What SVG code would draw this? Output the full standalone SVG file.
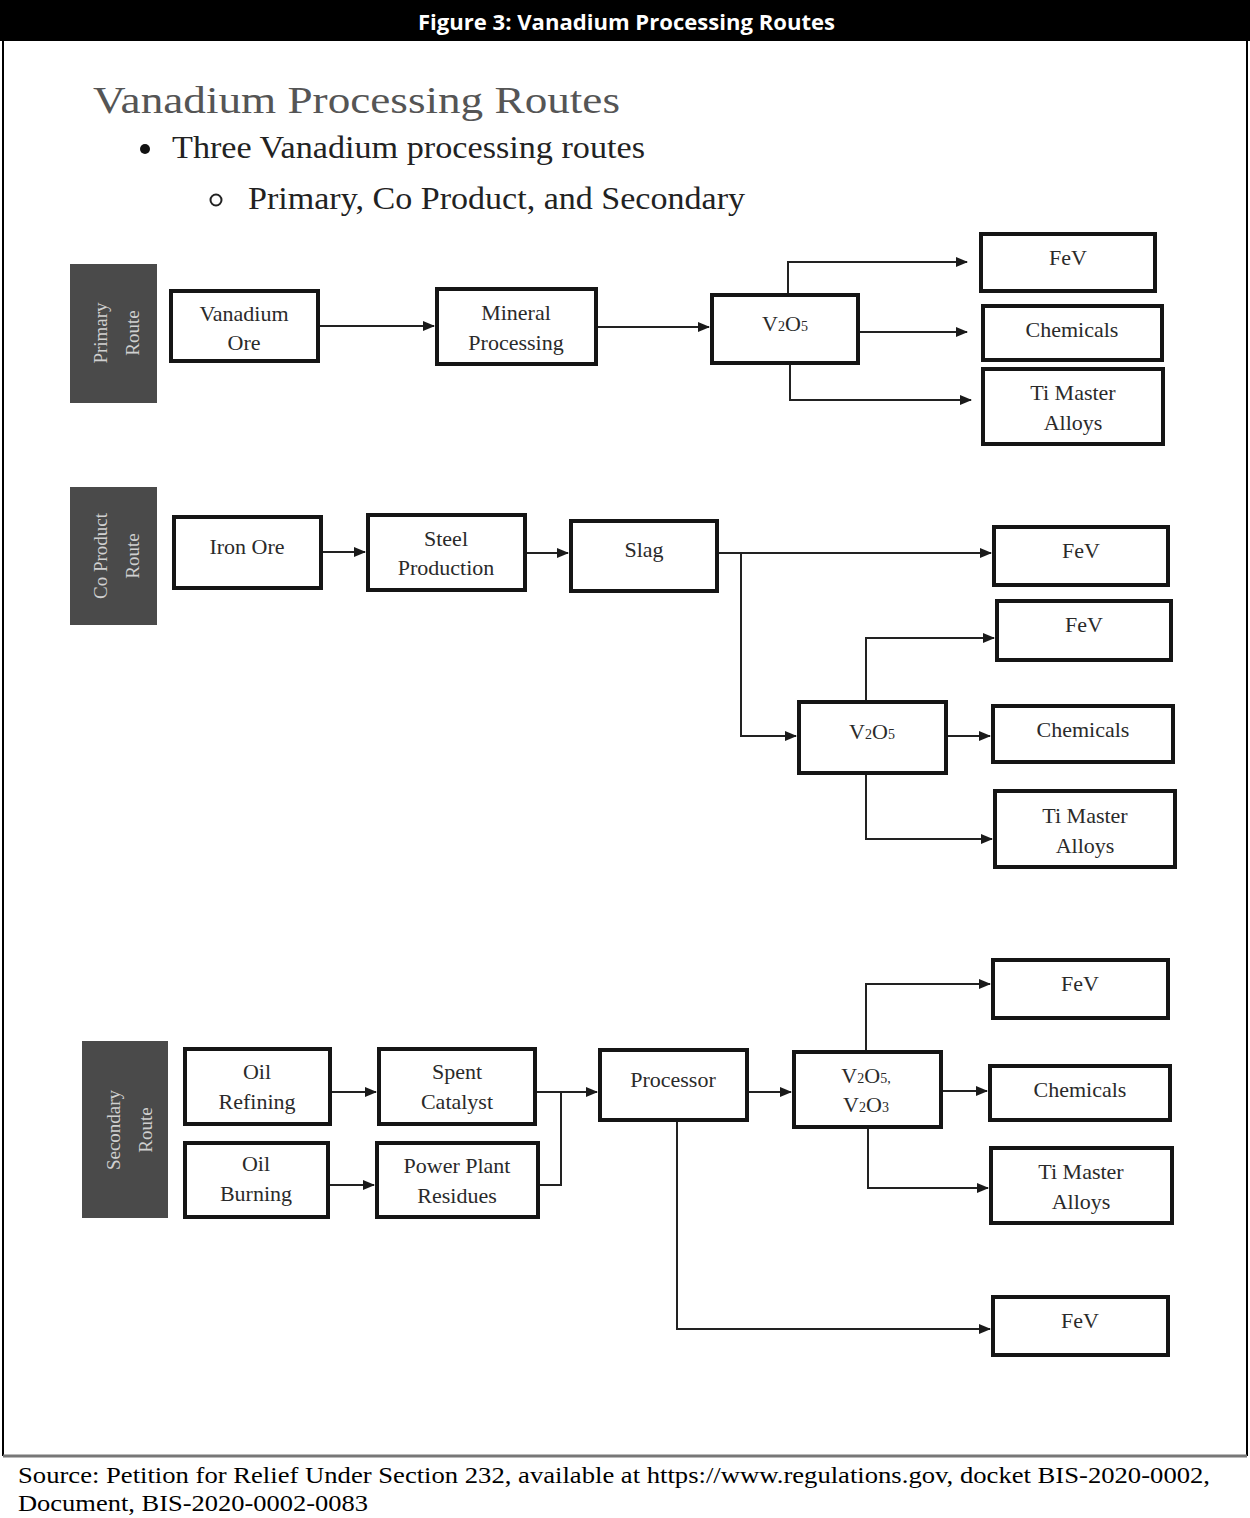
<svg xmlns="http://www.w3.org/2000/svg" width="1250" height="1518" viewBox="0 0 1250 1518">
<defs>
<marker id="ah" markerUnits="userSpaceOnUse" markerWidth="12" markerHeight="10" refX="11" refY="5" orient="auto"><path d="M0,0 L12,5 L0,10 Z" fill="#1a1a1a"/></marker>
<style>
.n rect{fill:#fff;stroke:#151515;stroke-width:4}
.n{font-family:'Liberation Serif',serif;font-size:22px;fill:#2a2a2a;text-anchor:middle}
.lab rect{fill:#4a4a4a}
.lab{font-family:'Liberation Serif',serif;font-size:19px;fill:#d0d0d0;text-anchor:middle}
.c path{fill:none;stroke:#222;stroke-width:2;marker-end:url(#ah)}
.c path.nm{marker-end:none}
.s{font-size:14px}
</style>
</defs>
<rect width="1250" height="1518" fill="#fff"/>
<rect x="0" y="0" width="1250" height="41" fill="#000"/>
<text x="418" y="30" font-family="'Open Sans','Liberation Sans',sans-serif" font-weight="bold" font-size="21" fill="#fff" textLength="417" lengthAdjust="spacingAndGlyphs">Figure 3: Vanadium Processing Routes</text>
<path d="M3,41 V1456 M1247,41 V1456" stroke="#000" stroke-width="2" fill="none"/>
<path d="M3,1456 H1247" stroke="#777" stroke-width="3" fill="none"/>
<text x="18" y="1483" font-family="'Liberation Serif',serif" font-size="23" fill="#000" textLength="1192" lengthAdjust="spacingAndGlyphs">Source: Petition for Relief Under Section 232, available at https://www.regulations.gov, docket BIS-2020-0002,</text>
<text x="18" y="1511" font-family="'Liberation Serif',serif" font-size="23" fill="#000" textLength="350" lengthAdjust="spacingAndGlyphs">Document, BIS-2020-0002-0083</text>

<text x="93" y="113" font-family="'Liberation Serif',serif" font-size="38" fill="#555" textLength="527" lengthAdjust="spacingAndGlyphs">Vanadium Processing Routes</text>
<circle cx="145" cy="149" r="5" fill="#111"/>
<text x="172" y="158" font-family="'Liberation Serif',serif" font-size="31" fill="#222" textLength="473" lengthAdjust="spacingAndGlyphs">Three Vanadium processing routes</text>
<circle cx="216" cy="200" r="5.5" fill="none" stroke="#222" stroke-width="2"/>
<text x="248" y="209" font-family="'Liberation Serif',serif" font-size="31" fill="#222" textLength="497" lengthAdjust="spacingAndGlyphs">Primary, Co Product, and Secondary</text>

<g id="lab-primary" class="lab"><rect x="70" y="264" width="87" height="139"/><text transform="translate(107,333) rotate(-90)">Primary</text><text transform="translate(139,333) rotate(-90)">Route</text></g>
<g id="lab-coproduct" class="lab"><rect x="70" y="487" width="87" height="138"/><text transform="translate(107,556) rotate(-90)">Co Product</text><text transform="translate(139,556) rotate(-90)">Route</text></g>
<g id="lab-secondary" class="lab"><rect x="82" y="1041" width="86" height="177"/><text transform="translate(120,1130) rotate(-90)">Secondary</text><text transform="translate(152,1130) rotate(-90)">Route</text></g>

<g id="connectors" class="c">
<path d="M318,326 H434"/>
<path d="M596,327 H709"/>
<path d="M788,295 V262 H967"/>
<path d="M858,332 H967"/>
<path d="M790,363 V400 H971"/>
<path d="M321,552 H365"/>
<path d="M525,553 H568"/>
<path d="M717,553 H991"/>
<path d="M741,553 V736 H796"/>
<path d="M866,702 V638 H994"/>
<path d="M946,736 H990"/>
<path d="M866,773 V839 H992"/>
<path d="M330,1092 H376"/>
<path d="M328,1185 H374"/>
<path d="M535,1092 H597"/>
<path class="nm" d="M538,1185 H561 V1092"/>
<path d="M747,1092 H791"/>
<path d="M866,1052 V984 H990"/>
<path d="M941,1091 H987"/>
<path d="M868,1127 V1188 H988"/>
<path d="M677,1120 V1329 H990"/>
</g>

<g id="p-vore" class="n"><rect x="171" y="291" width="147" height="70"/><text x="244" y="321">Vanadium</text><text x="244" y="350">Ore</text></g>
<g id="p-mineral" class="n"><rect x="437" y="289" width="159" height="75"/><text x="516" y="320">Mineral</text><text x="516" y="350">Processing</text></g>
<g id="p-v2o5" class="n"><rect x="712" y="295" width="146" height="68"/><text x="785" y="331">V<tspan class="s">2</tspan>O<tspan class="s">5</tspan></text></g>
<g id="p-fev" class="n"><rect x="981" y="234" width="174" height="57"/><text x="1068" y="265">FeV</text></g>
<g id="p-chem" class="n"><rect x="983" y="306" width="179" height="54"/><text x="1072" y="337">Chemicals</text></g>
<g id="p-ti" class="n"><rect x="983" y="369" width="180" height="75"/><text x="1073" y="400">Ti Master</text><text x="1073" y="430">Alloys</text></g>

<g id="c-iron" class="n"><rect x="174" y="517" width="147" height="71"/><text x="247" y="554">Iron Ore</text></g>
<g id="c-steel" class="n"><rect x="368" y="515" width="157" height="75"/><text x="446" y="546">Steel</text><text x="446" y="575">Production</text></g>
<g id="c-slag" class="n"><rect x="571" y="521" width="146" height="70"/><text x="644" y="557">Slag</text></g>
<g id="c-fev1" class="n"><rect x="994" y="527" width="174" height="58"/><text x="1081" y="558">FeV</text></g>
<g id="c-fev2" class="n"><rect x="997" y="601" width="174" height="59"/><text x="1084" y="632">FeV</text></g>
<g id="c-v2o5" class="n"><rect x="799" y="702" width="147" height="71"/><text x="872" y="739">V<tspan class="s">2</tspan>O<tspan class="s">5</tspan></text></g>
<g id="c-chem" class="n"><rect x="993" y="706" width="180" height="56"/><text x="1083" y="737">Chemicals</text></g>
<g id="c-ti" class="n"><rect x="995" y="791" width="180" height="76"/><text x="1085" y="823">Ti Master</text><text x="1085" y="853">Alloys</text></g>

<g id="s-refining" class="n"><rect x="185" y="1049" width="145" height="75"/><text x="257" y="1079">Oil</text><text x="257" y="1109">Refining</text></g>
<g id="s-burning" class="n"><rect x="185" y="1143" width="143" height="74"/><text x="256" y="1171">Oil</text><text x="256" y="1201">Burning</text></g>
<g id="s-spent" class="n"><rect x="379" y="1049" width="156" height="75"/><text x="457" y="1079">Spent</text><text x="457" y="1109">Catalyst</text></g>
<g id="s-power" class="n"><rect x="377" y="1143" width="161" height="74"/><text x="457" y="1173">Power Plant</text><text x="457" y="1203">Residues</text></g>
<g id="s-processor" class="n"><rect x="600" y="1050" width="147" height="70"/><text x="673" y="1087">Processor</text></g>
<g id="s-v2o" class="n"><rect x="794" y="1052" width="147" height="75"/><text x="866" y="1083">V<tspan class="s">2</tspan>O<tspan class="s">5,</tspan></text><text x="866" y="1112">V<tspan class="s">2</tspan>O<tspan class="s">3</tspan></text></g>
<g id="s-fev1" class="n"><rect x="993" y="960" width="175" height="58"/><text x="1080" y="991">FeV</text></g>
<g id="s-chem" class="n"><rect x="990" y="1066" width="180" height="54"/><text x="1080" y="1097">Chemicals</text></g>
<g id="s-ti" class="n"><rect x="991" y="1148" width="181" height="75"/><text x="1081" y="1179">Ti Master</text><text x="1081" y="1209">Alloys</text></g>
<g id="s-fev2" class="n"><rect x="993" y="1297" width="175" height="58"/><text x="1080" y="1328">FeV</text></g>
</svg>
